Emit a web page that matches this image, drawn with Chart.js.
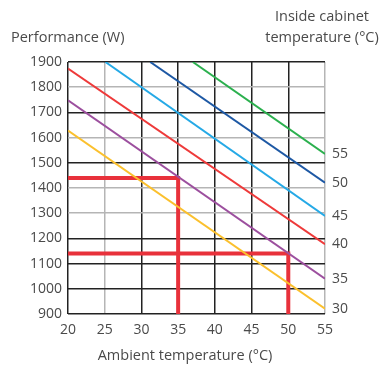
<!DOCTYPE html>
<html>
<head>
<meta charset="utf-8">
<script src="https://cdn.jsdelivr.net/npm/chart.js@4"></script>
<style>
  html, body { margin:0; padding:0; background:#fff; }
  #wrap { width:383px; height:369px; }
</style>
</head>
<body>
<div id="wrap"><canvas id="chart" width="383" height="369"></canvas></div>
<script>
// inside cabinet temperature curves (ambient °C -> performance W)
const cabinetTemps = [30, 35, 40, 45, 50, 55];
const lineColors = ['#fbc02d', '#9c4f9e', '#ee3a3a', '#25a9e6', '#1d58a4', '#2bb04e'];
const ambientStart = [20, 20, 20, 25.1, 31.2, 37];
const perfStart = [1628, 1748, 1874, 1900, 1900, 1900];
const ambientEnd = [55, 55, 55, 55, 55, 55];
const perfEnd = [921, 1040, 1177, 1289, 1421, 1535];

// red reading examples
const guideAmbient = [35, 50];
const guidePerf = [1440, 1140];

const xTicks = [20, 25, 30, 35, 40, 45, 50, 55];
const yTicks = [900, 1000, 1100, 1200, 1300, 1400, 1500, 1600, 1700, 1800, 1900];
const grayX = [25, 55];
const grayY = [1300, 1400, 1600, 1800];

const FONT = '"Open Sans", sans-serif';
const TXT = '#4a4a4a';

const datasets = cabinetTemps.map((t, i) => ({
  label: t + ' °C',
  data: [{x: ambientStart[i], y: perfStart[i]}, {x: ambientEnd[i], y: perfEnd[i]}],
  borderColor: lineColors[i],
  borderWidth: 2,
  pointRadius: 0,
  showLine: true
}));

guideAmbient.forEach((a, i) => {
  datasets.push({
    label: 'guide ' + a,
    data: [{x: 20, y: guidePerf[i]}, {x: a, y: guidePerf[i]}, {x: a, y: 900}],
    borderColor: '#e8313b',
    borderWidth: 4,
    pointRadius: 0,
    showLine: true
  });
});

const textPlugin = {
  id: 'texts',
  afterDatasetsDraw(chart) {
    const {ctx, scales: {x, y}} = chart;
    ctx.save();
    ctx.fillStyle = TXT;
    ctx.font = '14px ' + FONT;
    ctx.textBaseline = 'middle';
    ctx.textAlign = 'left';
    cabinetTemps.forEach((t, i) => {
      const px = x.getPixelForValue(ambientEnd[i]);
      const py = y.getPixelForValue(perfEnd[i]);
      ctx.fillText(String(t), px + 7, py);
    });
    ctx.font = '14.5px ' + FONT;
    ctx.fillText('Performance (W)', 11, 38);
    ctx.textAlign = 'center';
    ctx.fillText('Inside cabinet', 322, 17);
    ctx.fillText('temperature (°C)', 322, 38);
    ctx.fillText('Ambient temperature (°C)', 185, 356);
    ctx.restore();
  }
};

new Chart(document.getElementById('chart'), {
  type: 'scatter',
  data: { datasets },
  options: {
    responsive: false,
    animation: false,
    layout: { padding: { top: 62, right: 58, left: 0, bottom: 0 } },
    plugins: { legend: { display: false }, tooltip: { enabled: false } },
    scales: {
      x: {
        type: 'linear', min: 20, max: 55,
        afterBuildTicks: s => { s.ticks = xTicks.map(v => ({value: v})); },
        afterFit: s => { s.height = 55; },
        border: { display: false },
        grid: {
          drawTicks: false,
          color: c => grayX.includes(c.tick.value) ? '#b5b5b5' : '#222',
          lineWidth: 1.5
        },
        ticks: { color: TXT, font: { family: FONT, size: 14 }, padding: 8, callback: v => String(v) }
      },
      y: {
        type: 'linear', min: 900, max: 1900,
        afterBuildTicks: s => { s.ticks = yTicks.map(v => ({value: v})); },
        afterFit: s => { s.width = 68; },
        border: { display: false },
        grid: {
          drawTicks: false,
          color: c => grayY.includes(c.tick.value) ? '#b5b5b5' : '#222',
          lineWidth: 1.5
        },
        ticks: { color: TXT, font: { family: FONT, size: 14 }, padding: 6, callback: v => String(v) }
      }
    }
  },
  plugins: [textPlugin]
});
</script>
</body>
</html>
